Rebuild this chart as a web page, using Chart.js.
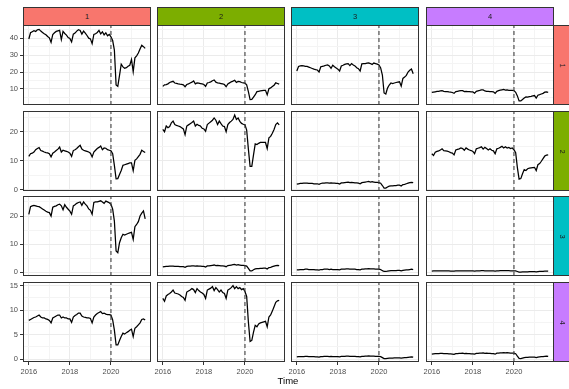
<!DOCTYPE html>
<html><head><meta charset="utf-8">
<script src="https://cdn.jsdelivr.net/npm/chart.js@4.4.0/dist/chart.umd.min.js"></script>
<style>
html,body{margin:0;padding:0;background:#fff;}
#fig{position:relative;width:569px;height:389px;overflow:hidden;background:#fff;font-family:"Liberation Sans",Arial,sans-serif;}
canvas{position:absolute;}
.strip{position:absolute;box-sizing:border-box;border:1px solid #333;color:#1A1A1A;font-size:7.5px;display:flex;align-items:center;justify-content:center;}
.strip.r span{display:inline-block;transform:rotate(90deg);}
#xtitle{position:absolute;left:238px;width:100px;top:375px;height:12px;line-height:12px;text-align:center;font-size:9.5px;color:#000;}
</style></head><body><div id="fig"></div>
<script>
// ---------- data ----------
const facetLabels = ['1','2','3','4'];
const stripColors = ['#F8766D','#7CAE00','#00BFC4','#C77CFF'];
const xTickYears = [2016,2017,2018,2019,2020,2021];
const xMajorYears = [2016,2018,2020];
const breakYear = 2020;
const months = [
"2016-01","2016-02","2016-03","2016-04","2016-05","2016-06","2016-07","2016-08","2016-09","2016-10","2016-11","2016-12",
"2017-01","2017-02","2017-03","2017-04","2017-05","2017-06","2017-07","2017-08","2017-09","2017-10","2017-11","2017-12",
"2018-01","2018-02","2018-03","2018-04","2018-05","2018-06","2018-07","2018-08","2018-09","2018-10","2018-11","2018-12",
"2019-01","2019-02","2019-03","2019-04","2019-05","2019-06","2019-07","2019-08","2019-09","2019-10","2019-11","2019-12",
"2020-01","2020-02","2020-03","2020-04","2020-05","2020-06","2020-07","2020-08","2020-09","2020-10","2020-11","2020-12",
"2021-01","2021-02","2021-03","2021-04","2021-05","2021-06","2021-07","2021-08","2021-09"];

const s11 = [39.5,43.2,43.8,44.4,44.0,45.0,45.2,44.2,43.4,42.6,42.0,41.0,
40.2,37.6,42.2,43.2,44.0,44.3,44.6,39.2,44.0,42.8,41.8,40.4,
39.8,37.8,42.4,43.0,44.2,45.0,44.6,42.4,44.2,43.0,41.6,40.0,
39.6,36.8,42.2,42.6,43.4,44.6,42.6,43.8,42.0,43.2,41.4,42.2,
40.8,38.6,33.0,12.4,11.6,18.0,24.6,23.0,22.2,22.6,23.4,24.0,
27.4,20.2,28.4,29.6,31.2,33.6,35.8,35.0,34.0];
const s12 = [11.5,12.4,12.6,13.0,13.8,14.2,14.5,13.5,13.3,13.0,12.8,12.7,
12.4,11.3,12.6,13.0,13.5,14.0,14.7,13.0,13.6,13.4,13.2,13.0,
12.6,11.5,13.5,13.8,14.2,14.8,15.3,14.0,13.6,13.4,13.2,13.0,
12.6,11.3,13.0,13.6,14.2,14.6,15.1,13.8,14.4,14.3,13.8,13.6,
13.4,12.4,8.4,3.7,3.8,5.2,6.6,8.4,8.6,8.8,9.0,9.2,
9.2,6.5,10.1,10.6,11.4,12.2,13.6,13.2,12.8];
const s13 = [20.6,23.3,23.6,23.8,23.6,23.4,23.3,22.9,22.5,22.1,21.7,21.4,
21.2,20.0,23.1,23.4,23.6,24.0,24.2,23.6,22.2,24.0,23.1,22.4,
21.7,20.6,23.6,24.0,24.5,24.8,25.0,23.8,25.0,24.2,23.6,22.5,
22.0,20.6,24.8,25.0,25.0,25.2,25.4,25.0,24.5,25.3,25.0,24.7,
24.2,22.4,18.2,7.6,7.0,10.5,12.3,13.5,13.2,13.5,13.8,14.0,
14.2,11.7,16.2,17.0,18.0,20.0,21.0,21.8,19.0];
const s14 = [7.9,8.1,8.3,8.5,8.6,8.8,9.0,8.6,8.4,8.4,8.2,8.1,
7.9,7.4,8.4,8.6,8.8,9.0,9.0,8.4,8.6,8.4,8.4,8.2,
8.2,7.5,8.6,8.9,9.1,9.4,9.4,8.8,8.6,8.5,8.4,8.4,
8.3,7.4,8.6,9.0,9.3,9.5,9.7,9.3,9.4,9.2,9.1,9.1,
9.0,8.0,5.9,2.9,2.9,3.8,4.6,5.3,5.1,5.4,5.6,5.9,
6.1,4.6,6.3,6.6,7.0,7.4,8.1,8.2,8.0];
const s22 = [20.8,20.0,22.0,21.4,21.8,23.1,23.7,22.5,22.2,22.0,21.8,21.4,
21.0,19.0,22.0,22.4,22.8,23.2,23.7,22.0,22.6,22.2,22.0,21.2,
21.0,20.2,22.5,23.0,23.5,24.0,24.8,24.0,22.5,23.7,22.8,22.0,
21.8,20.0,22.5,23.2,23.7,24.3,25.8,24.3,24.8,23.6,22.9,22.6,
22.4,20.6,14.0,8.0,8.0,12.0,15.8,15.6,16.0,16.3,16.3,16.3,
16.3,14.2,17.9,18.4,19.5,20.8,22.5,23.1,22.4];
const s23 = [1.9,2.0,2.1,2.1,2.2,2.2,2.2,2.1,2.1,2.1,2.0,2.0,
2.0,1.8,2.1,2.2,2.2,2.3,2.3,2.2,2.3,2.2,2.2,2.1,
2.1,1.9,2.3,2.3,2.4,2.5,2.6,2.4,2.5,2.4,2.3,2.3,
2.2,2.0,2.4,2.5,2.6,2.7,2.8,2.6,2.7,2.6,2.5,2.5,
2.4,2.2,1.4,0.5,0.5,0.9,1.2,1.3,1.3,1.4,1.4,1.5,
1.5,1.2,1.7,1.8,2.0,2.2,2.4,2.5,2.4];
const s24 = [12.4,11.8,12.9,13.2,13.4,13.7,14.1,13.5,13.4,13.3,13.1,12.8,
12.6,12.0,13.7,13.9,14.1,14.4,14.2,13.6,14.4,14.0,13.7,13.5,
13.2,12.4,14.1,14.3,14.5,14.8,14.0,14.6,14.2,13.7,14.1,13.6,
13.4,12.4,14.1,14.3,14.6,15.0,14.4,14.8,14.4,14.6,14.2,14.4,
13.8,12.8,7.6,3.6,3.8,5.5,6.9,6.6,7.2,7.4,7.5,7.6,
7.7,6.6,8.6,9.0,9.8,10.7,11.6,11.9,12.0];
const s33 = [0.9,0.9,1.0,1.0,1.0,1.1,1.1,1.0,1.0,1.0,1.0,0.9,
0.9,0.8,1.0,1.0,1.1,1.1,1.1,1.0,1.1,1.0,1.0,1.0,
1.0,0.9,1.1,1.1,1.1,1.2,1.2,1.1,1.1,1.1,1.1,1.0,
1.0,0.9,1.1,1.1,1.2,1.2,1.3,1.2,1.2,1.2,1.1,1.1,
1.1,1.0,0.6,0.3,0.3,0.4,0.5,0.6,0.6,0.6,0.6,0.7,
0.7,0.5,0.7,0.8,0.9,0.9,1.0,1.1,1.0];
const s34 = [0.45,0.5,0.5,0.5,0.5,0.55,0.55,0.5,0.5,0.5,0.5,0.45,
0.45,0.4,0.5,0.5,0.55,0.55,0.55,0.5,0.55,0.5,0.5,0.5,
0.5,0.45,0.55,0.55,0.55,0.6,0.6,0.55,0.55,0.55,0.55,0.5,
0.5,0.45,0.55,0.55,0.6,0.6,0.65,0.6,0.6,0.6,0.55,0.55,
0.55,0.5,0.3,0.1,0.1,0.15,0.2,0.2,0.2,0.25,0.25,0.25,
0.25,0.2,0.25,0.3,0.3,0.35,0.4,0.45,0.4];
const s44 = [1.0,1.05,1.1,1.1,1.1,1.15,1.15,1.1,1.1,1.1,1.05,1.05,
1.0,0.95,1.1,1.1,1.15,1.15,1.2,1.1,1.15,1.1,1.1,1.05,
1.05,1.0,1.15,1.15,1.2,1.2,1.25,1.15,1.2,1.15,1.15,1.1,
1.1,1.0,1.2,1.2,1.25,1.25,1.3,1.25,1.3,1.25,1.2,1.2,
1.2,1.1,0.6,0.15,0.1,0.2,0.3,0.35,0.35,0.4,0.4,0.4,
0.4,0.3,0.4,0.45,0.5,0.5,0.55,0.6,0.55];

const panelSeries = [
  [s11, s12, s13, s14],
  [s12, s22, s23, s24],
  [s13, s23, s33, s34],
  [s14, s24, s34, s44]
];
const rowYTicks = [
  [5,10,15,20,25,30,35,40,45],
  [0,5,10,15,20,25],
  [0,5,10,15,20,25],
  [0,2.5,5,7.5,10,12.5,15]
];
const rowYMajor = [
  [10,20,30,40],
  [0,10,20],
  [0,10,20],
  [0,5,10,15]
];

// ---------- layout / style ----------
const rowYRange = [[0.5,47.8],[-0.5,27.2],[-1.3,27.1],[-0.6,15.75]];
const xRange = [2015.7167, 2021.95];
const colLeft = [23,157,291,426], rowTop = [25,111,196,282];
const PW = 128, PH = 80, PAD = 4, YAX = 23, XAX = 14;
const FONT = "'Liberation Sans', Arial, sans-serif";
Chart.defaults.font.family = FONT;

const xs = months.map(s => { const p = s.split('-').map(Number); return p[0] + (p[1]-1)/12; });

const fig = document.getElementById('fig');
const borderPlugin = {
  id: 'panelBorder',
  afterDraw(chart) {
    const a = chart.chartArea, c = chart.ctx;
    c.save(); c.strokeStyle = '#333333'; c.lineWidth = 1;
    c.strokeRect(Math.round(a.left)+0.5, Math.round(a.top)+0.5, Math.round(a.right-a.left)-1, Math.round(a.bottom-a.top)-1);
    c.restore();
  }
};

for (let r = 0; r < 4; r++) {
  for (let c = 0; c < 4; c++) {
    const left = c === 0;
    const bottom = r === 3;
    const padL = left ? 0 : PAD;
    const cw = (left ? YAX : PAD) + PW + PAD;
    const ch = PAD + PH + (bottom ? XAX : 0) + PAD;
    const cv = document.createElement('canvas');
    cv.width = cw; cv.height = ch;
    cv.style.width = cw + 'px'; cv.style.height = ch + 'px';
    cv.style.left = (colLeft[c] - (left ? YAX : PAD)) + 'px';
    cv.style.top = (rowTop[r] - PAD) + 'px';
    fig.appendChild(cv);
    const yr = rowYRange[r];
    const yTicks = rowYTicks[r], yMaj = rowYMajor[r];
    const data = panelSeries[r][c];
    new Chart(cv, {
      type: 'line',
      data: {
        datasets: [
          { data: [{x: breakYear, y: yr[0]}, {x: breakYear, y: yr[1]}], borderColor: '#404040', borderWidth: 1.1,
            borderDash: [4,3], pointRadius: 0, order: 0 },
          { data: xs.map((x,i) => ({x, y: data[i]})), borderColor: '#000000', borderWidth: 1.25,
            pointRadius: 0, tension: 0, order: 1 }
        ]
      },
      options: {
        responsive: false, animation: false, devicePixelRatio: 1,
        layout: { padding: { left: padL, right: PAD, top: PAD, bottom: PAD } },
        plugins: { legend: { display: false }, tooltip: { enabled: false } },
        scales: {
          x: {
            type: 'linear', min: xRange[0], max: xRange[1],
            afterBuildTicks: s => { s.ticks = xTickYears.map(v => ({value: v})); },
            afterFit: s => { s.height = bottom ? XAX : 0; s.paddingLeft = 0; s.paddingRight = 0; },
            border: { display: false },
            grid: {
              color: ctx => (ctx.tick && xMajorYears.includes(ctx.tick.value)) ? '#EBEBEB' : '#F4F4F4',
              lineWidth: 1,
              drawTicks: bottom, tickLength: 3, tickWidth: 1,
              tickColor: ctx => (ctx.tick && xMajorYears.includes(ctx.tick.value)) ? '#333333' : 'rgba(0,0,0,0)'
            },
            ticks: {
              display: bottom, autoSkip: false, maxRotation: 0, padding: 2,
              color: '#4D4D4D', font: { size: 7.5, family: FONT },
              callback: v => xMajorYears.includes(v) ? String(v) : ''
            }
          },
          y: {
            type: 'linear', min: yr[0], max: yr[1],
            afterBuildTicks: s => { s.ticks = yTicks.map(v => ({value: v})); },
            afterFit: s => { s.width = left ? YAX : 0; s.paddingTop = 0; s.paddingBottom = 0; },
            border: { display: false },
            grid: {
              color: ctx => (ctx.tick && yMaj.includes(ctx.tick.value)) ? '#EBEBEB' : '#F4F4F4',
              lineWidth: 1,
              drawTicks: left, tickLength: 3, tickWidth: 1,
              tickColor: ctx => (ctx.tick && yMaj.includes(ctx.tick.value)) ? '#333333' : 'rgba(0,0,0,0)'
            },
            ticks: {
              display: left, autoSkip: false, padding: 2,
              color: '#4D4D4D', font: { size: 7.5, family: FONT },
              callback: v => yMaj.includes(v) ? String(v) : ''
            }
          }
        }
      },
      plugins: [borderPlugin]
    });
  }
}

// strips
for (let c = 0; c < 4; c++) {
  const d = document.createElement('div');
  d.className = 'strip';
  d.style.left = colLeft[c] + 'px'; d.style.top = '7px';
  d.style.width = PW + 'px'; d.style.height = '19px';
  d.style.background = stripColors[c];
  d.textContent = facetLabels[c];
  fig.appendChild(d);
}
for (let r = 0; r < 4; r++) {
  const d = document.createElement('div');
  d.className = 'strip r';
  d.style.left = (colLeft[3] + PW - 1) + 'px'; d.style.top = rowTop[r] + 'px';
  d.style.width = '18px'; d.style.height = PH + 'px';
  d.style.background = stripColors[r];
  const sp = document.createElement('span'); sp.textContent = facetLabels[r];
  d.appendChild(sp);
  fig.appendChild(d);
}
const t = document.createElement('div'); t.id = 'xtitle'; t.textContent = 'Time'; fig.appendChild(t);
</script>
</body></html>
